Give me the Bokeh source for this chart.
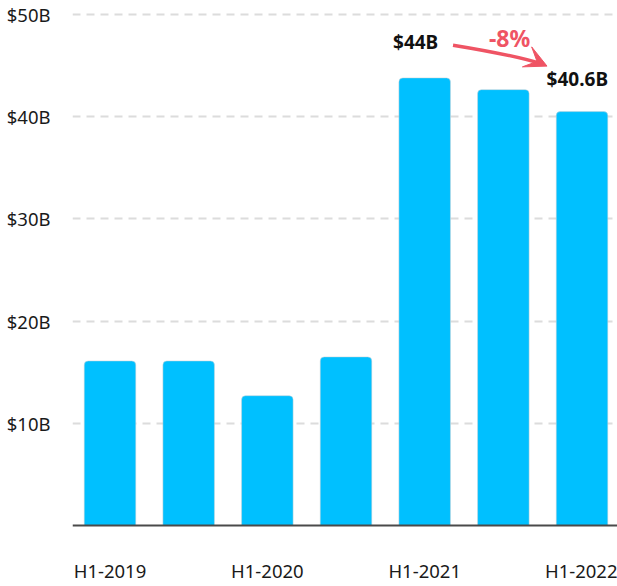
from bokeh.plotting import figure
from bokeh.models import Range1d, FixedTicker, Arrow, VeeHead, Span
from bokeh.core.properties import value
from bokeh.embed import file_html
from bokeh.resources import INLINE

# ---- data ----
periods = ["H1-2019", "H2-2019", "H1-2020", "H2-2020", "H1-2021", "H2-2021", "H1-2022"]
revenue_b = [16.1, 16.1, 12.7, 16.5, 43.8, 42.65, 40.5]
shown_tick_idx = [0, 2, 4, 6]
y_ticks = [10, 20, 30, 40, 50]
y_tick_labels = ["$10B", "$20B", "$30B", "$40B", "$50B"]
callout_idx = [4, 6]
callout_labels = ["$44B", "$40.6B"]
change_label = "-8%"

BAR = "#00C0FF"
RED = "#EF5464"
FONT = "Noto Sans"

xs = list(range(len(periods)))

p = figure(width=617, height=586, output_backend="svg", toolbar_location=None,
           x_range=Range1d(-0.4767, 6.451), y_range=Range1d(-0.587, 50.98),
           min_border_left=72, min_border_right=0, min_border_top=4, min_border_bottom=55)
p.outline_line_color = None
p.background_fill_color = "white"
p.border_fill_color = "white"

p.vbar(x=xs, top=revenue_b, width=0.655, bottom=0, fill_color=BAR,
       line_color="#c9d3d8", line_width=1, line_alpha=0.5, border_radius=[4, 4, 0, 0])

# baseline
p.add_layout(Span(location=0, dimension="width", line_color="#4a4a4a", line_width=2))

# axes
p.xaxis.ticker = FixedTicker(ticks=shown_tick_idx)
p.xaxis.major_label_overrides = {i: periods[i] for i in shown_tick_idx}
p.xaxis.axis_line_color = None
p.xaxis.axis_label = None
p.xaxis.major_tick_line_color = None
p.xaxis.minor_tick_line_color = None
p.xaxis.major_label_standoff = 20
p.xaxis.major_label_text_font = FONT
p.xaxis.major_label_text_font_size = "18.5px"
p.xaxis.major_label_text_color = "#1a1a1a"

p.yaxis.ticker = FixedTicker(ticks=y_ticks)
p.yaxis.major_label_overrides = {t: l for t, l in zip(y_ticks, y_tick_labels)}
p.yaxis.axis_line_color = None
p.yaxis.axis_label = None
p.yaxis.major_tick_line_color = None
p.yaxis.minor_tick_line_color = None
p.yaxis.major_label_standoff = 16
p.yaxis.major_label_text_font = FONT
p.yaxis.major_label_text_font_size = "18.5px"
p.yaxis.major_label_text_color = "#1a1a1a"

p.xgrid.grid_line_color = None
p.ygrid.ticker = FixedTicker(ticks=y_ticks)
p.ygrid.grid_line_color = "#dcdcdc"
p.ygrid.grid_line_width = 2
p.ygrid.grid_line_dash = "8 6"

# callout labels above bars
cx = [callout_idx[0] - 0.115, callout_idx[1] - 0.06]
cy = [revenue_b[callout_idx[0]] + 3.55, revenue_b[callout_idx[1]] + 3.2]
p.text(x=cx, y=cy, text=callout_labels, text_font=value(FONT), text_font_style="bold",
       text_font_size="19px", text_color="#111111", text_align="center", text_baseline="middle")

# change arrow
a0, a1 = callout_idx
x0, y0 = a0 + 0.36, revenue_b[a0] + 3.2
x1, y1 = a1 - 0.445, revenue_b[a1] + 4.45
xc, yc = (x0 + x1) / 2 + 0.18, (y0 + y1) / 2 + 0.05
p.quadratic(x0=[x0], y0=[y0], x1=[x1 - 0.06], y1=[y1 + 0.2], cx=[xc], cy=[yc],
            line_color=RED, line_width=3.5)
p.add_layout(Arrow(end=VeeHead(size=22, fill_color=RED, line_color=RED, line_width=1),
                   x_start=x1 - 0.14, y_start=y1 + 0.5, x_end=x1, y_end=y1,
                   line_color=RED, line_width=3.5))

p.text(x=[a0 + 1.08], y=[revenue_b[a0] + 3.9], text=[change_label], text_font=value(FONT),
       text_font_style="bold", text_font_size="23px", text_color=RED,
       text_align="center", text_baseline="middle")

open("out.html", "w").write(file_html(p, INLINE))
